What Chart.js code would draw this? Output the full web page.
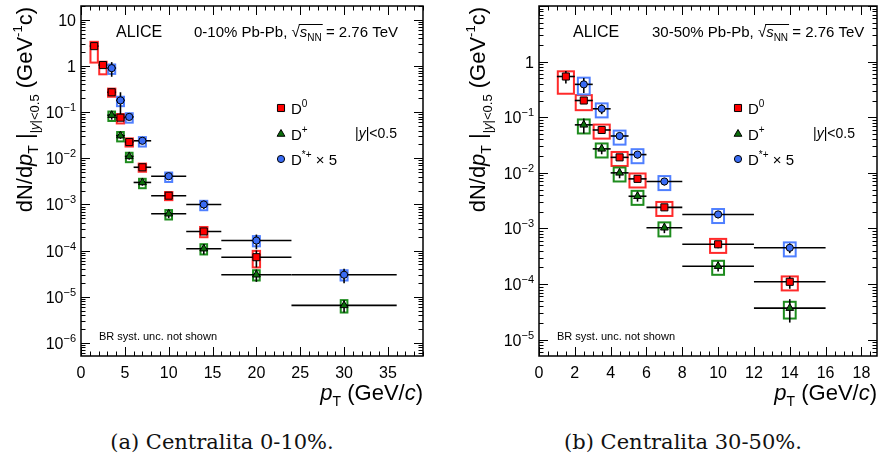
<!DOCTYPE html>
<html>
<head>
<meta charset="utf-8">
<title>D meson pT spectra, Pb-Pb 2.76 TeV</title>
<script src="https://cdn.jsdelivr.net/npm/chart.js@4.4.1/dist/chart.umd.min.js"></script>
<style>
  html, body { margin: 0; padding: 0; background: #fff; }
  body { width: 883px; height: 460px; position: relative; overflow: hidden; }
  canvas { position: absolute; top: 0; }
  #c1 { left: 0; }
  #c2 { left: 440px; }
  .cap { position: absolute; top: 430px; line-height: 24px; font-family: "DejaVu Serif", serif;
         font-size: 21px; white-space: nowrap; transform: translateX(-50%); color: #111; }
</style>
</head>
<body>
<canvas id="c1" width="440" height="420"></canvas>
<canvas id="c2" width="443" height="420"></canvas>
<div class="cap" style="left:222px">(a) Centralita 0-10%.</div>
<div class="cap" style="left:683px">(b) Centralita 30-50%.</div>

<script>
// ---- 0-10% centrality ----
const edges010_D0 = [1, 2, 3, 4, 5, 6, 8, 12, 16, 24];
const edges010_Dx = [3, 4, 5, 6, 8, 12, 16, 24, 36];
const d0_010      = [2.7, 1.05, 0.27, 0.076, 0.0225, 0.0064, 0.00155, 0.00026, 0.000072];
const d0_010_stat = [0.08, 0.08, 0.1, 0.12, 0.1, 0.12, 0.12, 0.15, 0.4];
const d0_010_sysU = [0.24, 0.18, 0.2, 0.2, 0.2, 0.2, 0.2, 0.25, 0.37];
const d0_010_sysD = [0.56, 0.37, 0.2, 0.25, 0.2, 0.2, 0.2, 0.25, 0.4];
const dp_010      = [0.086, 0.031, 0.011, 0.003, 0.00063, 0.00011, 0.00003, 0.0000065];
const dp_010_stat = [0.2, 0.15, 0.15, 0.15, 0.2, 0.25, 0.3, 0.3];
const dp_010_sysU = [0.2, 0.2, 0.2, 0.2, 0.2, 0.25, 0.25, 0.3];
const dp_010_sysD = [0.25, 0.25, 0.25, 0.25, 0.25, 0.25, 0.25, 0.3];
const ds_010      = [0.9, 0.18, 0.079, 0.024, 0.0041, 0.001, 0.000165, 0.00003];
const ds_010_stat = [0.35, 0.5, 0.15, 0.15, 0.15, 0.2, 0.35, 0.35];
const ds_010_sysU = [0.2, 0.2, 0.2, 0.2, 0.2, 0.2, 0.25, 0.25];
const ds_010_sysD = [0.25, 0.25, 0.25, 0.25, 0.25, 0.25, 0.25, 0.25];
const xTicks010 = [0, 5, 10, 15, 20, 25, 30, 35];

// ---- 30-50% centrality ----
const edges3050_D0 = [1, 2, 3, 4, 5, 6, 8, 12, 16];
const edges3050_Dx = [2, 3, 4, 5, 6, 8, 12, 16];
const d0_3050      = [0.54, 0.2, 0.059, 0.019, 0.0078, 0.0024, 0.00052, 0.00011];
const d0_3050_stat = [0.25, 0.12, 0.1, 0.1, 0.1, 0.12, 0.15, 0.25];
const d0_3050_sysU = [0.24, 0.25, 0.25, 0.25, 0.25, 0.25, 0.25, 0.25];
const d0_3050_sysD = [0.51, 0.33, 0.3, 0.3, 0.3, 0.3, 0.3, 0.3];
const dp_3050      = [0.073, 0.027, 0.01, 0.0038, 0.00103, 0.00021, 0.000037];
const dp_3050_stat = [0.3, 0.2, 0.2, 0.2, 0.2, 0.2, 0.45];
const dp_3050_sysU = [0.25, 0.25, 0.25, 0.25, 0.25, 0.25, 0.3];
const dp_3050_sysD = [0.3, 0.3, 0.3, 0.3, 0.3, 0.3, 0.35];
const ds_3050      = [0.39, 0.142, 0.046, 0.0213, 0.007, 0.00179, 0.00045];
const ds_3050_stat = [0.3, 0.2, 0.15, 0.15, 0.15, 0.15, 0.2];
const ds_3050_sysU = [0.32, 0.25, 0.25, 0.25, 0.25, 0.25, 0.25];
const ds_3050_sysD = [0.34, 0.3, 0.3, 0.3, 0.3, 0.3, 0.3];
const xTicks3050 = [0, 2, 4, 6, 8, 10, 12, 14, 16, 18];

const SANS = '"Liberation Sans", Arial, Helvetica, sans-serif';
const RED = '#ff0000', GREEN = '#0b6e0b', BLUE = '#3a6cf4';

function fnt(p) {
  return (p.it ? 'italic ' : '') + (p.s || 16) + 'px ' + SANS;
}

// draws a run of text pieces (sub/superscripts via dy), returns the pieces with positions
function rich(ctx, parts, x, y, align) {
  let w = 0;
  parts.forEach(p => { ctx.font = fnt(p); p.w = ctx.measureText(p.t).width; w += p.w; });
  let cx = align === 'right' ? x - w : align === 'center' ? x - w / 2 : x;
  parts.forEach(p => {
    ctx.font = fnt(p);
    ctx.fillText(p.t, cx, y + (p.dy || 0));
    p.x = cx;
    cx += p.w;
  });
  return parts;
}

function seg(ctx, x0, y0, x1, y1) {
  ctx.beginPath(); ctx.moveTo(x0, y0); ctx.lineTo(x1, y1); ctx.stroke();
}

function panel(id, o) {
  const datasets = o.series.map(s => ({
    label: s.name,
    data: s.values.map((v, i) => ({ x: (s.edges[i] + s.edges[i + 1]) / 2, y: v })),
    showLine: false,
    pointStyle: s.style,
    pointRadius: s.r,
    pointBackgroundColor: s.fill,
    pointBorderColor: '#000',
    pointBorderWidth: 1
  }));

  const rootStyle = {
    id: 'rootStyle',
    beforeDatasetsDraw(chart) {
      const { ctx, scales: { x, y } } = chart;
      ctx.save();
      // systematic boxes
      o.series.forEach(s => {
        ctx.strokeStyle = s.box;
        ctx.lineWidth = 2;
        s.values.forEach((v, i) => {
          const c = (s.edges[i] + s.edges[i + 1]) / 2;
          const x0 = x.getPixelForValue(c - s.bw), x1 = x.getPixelForValue(c + s.bw);
          const y0 = y.getPixelForValue(v * (1 + s.sysU[i])), y1 = y.getPixelForValue(v * (1 - s.sysD[i]));
          ctx.strokeRect(x0, y0, x1 - x0, y1 - y0);
        });
      });
      // stat errors and bin widths
      ctx.strokeStyle = '#000';
      ctx.lineWidth = 1.6;
      o.series.forEach(s => {
        s.values.forEach((v, i) => {
          const c = (s.edges[i] + s.edges[i + 1]) / 2;
          const px = x.getPixelForValue(c), py = y.getPixelForValue(v);
          seg(ctx, x.getPixelForValue(s.edges[i]), py, x.getPixelForValue(s.edges[i + 1]), py);
          seg(ctx, px, y.getPixelForValue(v * (1 + s.stat[i])), px, y.getPixelForValue(v * (1 - s.stat[i])));
        });
      });
      ctx.restore();
    },
    afterDraw(chart) {
      const { ctx, chartArea: a, scales: { x, y } } = chart;
      ctx.save();
      ctx.fillStyle = '#000';
      ctx.strokeStyle = '#000';
      ctx.textBaseline = 'alphabetic';

      // ticks, inward on all four sides
      const L = 9, l = 4.5;
      ctx.lineWidth = 1;
      for (let v = 0; v <= o.xMax + 1e-9; v += o.xMinor) {
        const major = Math.abs(v / o.xStep - Math.round(v / o.xStep)) < 1e-6;
        const px = Math.round(x.getPixelForValue(v)) + 0.5;
        const len = major ? L : l;
        seg(ctx, px, a.bottom, px, a.bottom - len);
        seg(ctx, px, a.top, px, a.top + len);
      }
      const k0 = Math.floor(Math.log10(o.yMin)), k1 = Math.ceil(Math.log10(o.yMax));
      for (let k = k0; k <= k1; k++) {
        for (let m = 1; m <= 9; m++) {
          const v = m * Math.pow(10, k);
          if (v < o.yMin || v > o.yMax) continue;
          const py = Math.round(y.getPixelForValue(v)) + 0.5;
          const len = m === 1 ? L : l;
          seg(ctx, a.left, py, a.left + len, py);
          seg(ctx, a.right, py, a.right - len, py);
        }
      }
      // frame
      ctx.lineWidth = 1.5;
      ctx.strokeRect(a.left, a.top, a.right - a.left, a.bottom - a.top);

      // x tick labels
      ctx.textAlign = 'left';
      o.xTicks.forEach(v => {
        rich(ctx, [{ t: String(v) }], x.getPixelForValue(v), a.bottom + 22, 'center');
      });
      // y tick labels
      for (let k = k0; k <= k1; k++) {
        const v = Math.pow(10, k);
        if (v < o.yMin || v > o.yMax * 0.99) continue;
        const py = y.getPixelForValue(v) + 6;
        let parts;
        if (k === 0) parts = [{ t: '1' }];
        else if (k === 1) parts = [{ t: '10' }];
        else parts = [{ t: '10' }, { t: '\u2212' + Math.abs(k), s: 11, dy: -7 }];
        rich(ctx, parts, a.left - 5, py, 'right');
      }

      // axis titles
      rich(ctx, [
        { t: 'p', it: true, s: 22 }, { t: 'T', s: 14, dy: 6 },
        { t: ' (GeV/', s: 22 }, { t: 'c', it: true, s: 22 }, { t: ')', s: 22 }
      ], a.right, 400, 'right');
      ctx.save();
      ctx.translate(o.yTitleX, 0);
      ctx.rotate(-Math.PI / 2);
      rich(ctx, [
        { t: 'dN/d', s: 22 }, { t: 'p', it: true, s: 22 }, { t: 'T', s: 14, dy: 6 },
        { t: ' |', s: 22 }, { t: '|', s: 13, dy: 7 }, { t: 'y', it: true, s: 13, dy: 7 },
        { t: '|<0.5', s: 13, dy: 7 },
        { t: ' (GeV', s: 22 }, { t: '-1', s: 13, dy: -10 }, { t: 'c)', s: 22 }
      ], -a.top - 1, 0, 'right');
      ctx.restore();

      // labels inside the frame
      rich(ctx, [{ t: 'ALICE', s: 16 }], o.aliceX, 37, 'left');
      const hp = rich(ctx, [
        { t: o.cent + ' Pb-Pb, ', s: 15 }, { t: '\u221A', s: 15 }, { t: 's', it: true, s: 15 },
        { t: 'NN', s: 10, dy: 4 }, { t: ' = 2.76 TeV', s: 15 }
      ], o.headX, 37, 'left');
      ctx.lineWidth = 1;
      seg(ctx, hp[1].x + hp[1].w - 1, 24.5, hp[3].x + hp[3].w + 1, 24.5);
      rich(ctx, [{ t: '|', s: 14 }, { t: 'y', it: true, s: 14 }, { t: '|<0.5', s: 14 }], o.rapX, 138, 'left');
      rich(ctx, [{ t: 'BR syst. unc. not shown', s: 11 }], o.brX, 340, 'left');

      // legend
      const legendRows = [
        [{ t: 'D', s: 15 }, { t: '0', s: 10, dy: -7 }],
        [{ t: 'D', s: 15 }, { t: '+', s: 10, dy: -7 }],
        [{ t: 'D', s: 15 }, { t: '*+', s: 10, dy: -7 }, { t: ' \u00D7 5', s: 15 }]
      ];
      const rowsY = [108, 134, 159];
      o.series.forEach((s, i) => {
        ctx.fillStyle = s.fill;
        ctx.strokeStyle = '#000';
        ctx.lineWidth = 1;
        Chart.helpers.drawPoint(ctx, { pointStyle: s.style, radius: s.r, rotation: 0, borderWidth: 1 }, o.legX, rowsY[i]);
        ctx.fillStyle = '#000';
        rich(ctx, legendRows[i], o.legX + 10, rowsY[i] + 6, 'left');
      });
      ctx.restore();
    }
  };

  new Chart(document.getElementById(id), {
    type: 'scatter',
    data: { datasets },
    options: {
      responsive: false,
      animation: false,
      events: [],
      layout: { padding: o.pad },
      plugins: { legend: { display: false }, tooltip: { enabled: false } },
      scales: {
        x: { type: 'linear', min: 0, max: o.xMax, display: false },
        y: { type: 'logarithmic', min: o.yMin, max: o.yMax, display: false }
      }
    },
    plugins: [rootStyle]
  });
}

function series(name, edges, values, stat, sysU, sysD, style, r, fill, box, bw) {
  return { name, edges, values, stat, sysU, sysD, style, r, fill, box, bw };
}

panel('c1', {
  cent: '0-10%',
  pad: { left: 81, right: 17, top: 4, bottom: 64 },
  xMax: 39, xStep: 5, xMinor: 1, xTicks: xTicks010,
  yMin: 5.2e-7, yMax: 20,
  yTitleX: 32, aliceX: 116, headX: 194, rapX: 355, brX: 99, legX: 281,
  series: [
    series('D0', edges010_D0, d0_010, d0_010_stat, d0_010_sysU, d0_010_sysD, 'rect', 5, RED, '#ff2a2a', 0.42),
    series('D+', edges010_Dx, dp_010, dp_010_stat, dp_010_sysU, dp_010_sysD, 'triangle', 4.5, GREEN, '#1e8c1e', 0.38),
    series('D*+', edges010_Dx, ds_010, ds_010_stat, ds_010_sysU, ds_010_sysD, 'circle', 3.6, BLUE, '#4f7fff', 0.4)
  ]
});

panel('c2', {
  cent: '30-50%',
  pad: { left: 99, right: 4, top: 4, bottom: 64 },
  xMax: 18.87, xStep: 2, xMinor: 0.5, xTicks: xTicks3050,
  yMin: 5.1e-6, yMax: 10,
  yTitleX: 45, aliceX: 133, headX: 212, rapX: 373, brX: 117, legX: 298,
  series: [
    series('D0', edges3050_D0, d0_3050, d0_3050_stat, d0_3050_sysU, d0_3050_sysD, 'rect', 5, RED, '#ff2a2a', 0.45),
    series('D+', edges3050_Dx, dp_3050, dp_3050_stat, dp_3050_sysU, dp_3050_sysD, 'triangle', 4.5, GREEN, '#1e8c1e', 0.33),
    series('D*+', edges3050_Dx, ds_3050, ds_3050_stat, ds_3050_sysU, ds_3050_sysD, 'circle', 3.6, BLUE, '#4f7fff', 0.33)
  ]
});
</script>
</body>
</html>
